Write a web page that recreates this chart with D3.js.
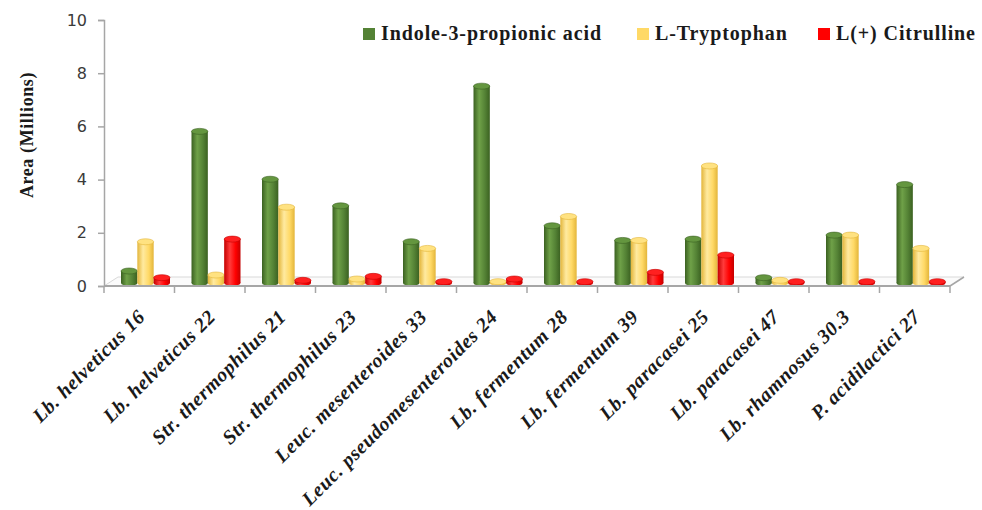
<!DOCTYPE html>
<html lang="en">
<head>
  <meta charset="UTF-8">
  <title>Area (Millions)</title>
  <script src="https://d3js.org/d3.v7.min.js" charset="utf-8"></script>
  <style>
    body { margin: 0; background: #fff; }
  </style>
</head>
<body>
  <div id="wrapper"></div>
  <script>
    const categories = [
      'Lb. helveticus 16', 'Lb. helveticus 22', 'Str. thermophilus 21', 'Str. thermophilus 23',
      'Leuc. mesenteroides 33', 'Leuc. pseudomesenteroides 24', 'Lb. fermentum 28', 'Lb. fermentum 39',
      'Lb. paracasei 25', 'Lb. paracasei 47', 'Lb. rhamnosus 30.3', 'P. acidilactici 27'
    ]
    const seriesNames = ['Indole-3-propionic acid', 'L-Tryptophan', 'L(+) Citrulline']
    const indoleValues     = [0.45, 5.7, 3.9, 2.9, 1.55, 7.4, 2.15, 1.6, 1.65, 0.2, 1.8, 3.7]
    const tryptophanValues = [1.55, 0.3, 2.85, 0.15, 1.3, 0.05, 2.5, 1.6, 4.4, 0.1, 1.8, 1.3]
    const citrullineValues = [0.2, 1.65, 0.1, 0.25, 0.05, 0.15, 0.05, 0.4, 1.05, 0.05, 0.05, 0.05]
    const yTicks = [0, 2, 4, 6, 8, 10]

    const seriesValues = [indoleValues, tryptophanValues, citrullineValues]
    const colors = [
      { base: '#548235', dark: '#3b6121', light: '#6fa148', top: '#64963f' },
      { base: '#ffd966', dark: '#e3b53a', light: '#ffeaa0', top: '#ffe281' },
      { base: '#ff0000', dark: '#c40000', light: '#ff3b3b', top: '#ff2020' },
    ]
    const serifFont = '"Liberation Serif", "Times New Roman", serif'

    const drawChart = () => {
      let dimensions = {
        width: 982,
        height: 510,
        margin: { top: 20, right: 32, bottom: 224, left: 104 },
      }
      dimensions.boundedWidth = dimensions.width - dimensions.margin.left - dimensions.margin.right
      dimensions.boundedHeight = dimensions.height - dimensions.margin.top - dimensions.margin.bottom

      const depthX = 14
      const depthY = -9
      const barShift = -3 // bars stand a little behind the front edge of the floor

      const wrapper = d3.select('#wrapper')
        .append('svg')
          .attr('width', dimensions.width)
          .attr('height', dimensions.height)

      // gradients for cylinders
      const defs = wrapper.append('defs')
      colors.forEach((c, i) => {
        const g = defs.append('linearGradient')
          .attr('id', `cyl${i}`)
          .attr('x1', '0%').attr('x2', '100%')
          .attr('y1', '0%').attr('y2', '0%')
        g.append('stop').attr('offset', '0%').attr('stop-color', c.dark)
        g.append('stop').attr('offset', '35%').attr('stop-color', c.light)
        g.append('stop').attr('offset', '70%').attr('stop-color', c.base)
        g.append('stop').attr('offset', '100%').attr('stop-color', c.dark)
      })

      const bounds = wrapper.append('g')
        .attr('transform', `translate(${dimensions.margin.left}, ${dimensions.margin.top})`)

      const xScale = d3.scaleBand()
        .domain(categories)
        .range([0, dimensions.boundedWidth])

      const x1Scale = d3.scaleBand()
        .domain(seriesNames)
        .range([17, 66])

      const yScale = d3.scaleLinear()
        .domain([0, 10])
        .range([dimensions.boundedHeight, 0])

      // floor
      const bh = dimensions.boundedHeight
      const bw = dimensions.boundedWidth
      bounds.append('path')
        .attr('d', `M0,${bh} L${bw},${bh} L${bw + depthX},${bh + depthY} L${depthX},${bh + depthY} Z`)
        .attr('fill', '#fbfbfb')
        .attr('stroke', 'none')
      bounds.append('line')
        .attr('x1', depthX).attr('x2', bw + depthX)
        .attr('y1', bh + depthY).attr('y2', bh + depthY)
        .attr('stroke', '#d9d9d9').attr('stroke-width', 1)
      bounds.append('line')
        .attr('x1', 0).attr('x2', depthX)
        .attr('y1', bh).attr('y2', bh + depthY)
        .attr('stroke', '#d9d9d9').attr('stroke-width', 1)
      bounds.append('line')
        .attr('x1', bw).attr('x2', bw + depthX)
        .attr('y1', bh).attr('y2', bh + depthY)
        .attr('stroke', '#a6a6a6').attr('stroke-width', 1.5)

      // bars as cylinders
      const ry = 3
      const baseY = bh + barShift
      const barData = []
      categories.forEach((cat, ci) => {
        seriesNames.forEach((s, si) => {
          barData.push({ cat, s, si, v: seriesValues[si][ci] })
        })
      })

      const bars = bounds.append('g')
        .selectAll('g')
        .data(barData)
        .join('g')

      bars.append('ellipse')
        .attr('cx', d => xScale(d.cat) + x1Scale(d.s) + x1Scale.bandwidth() / 2)
        .attr('cy', baseY)
        .attr('rx', x1Scale.bandwidth() / 2)
        .attr('ry', ry)
        .attr('fill', d => `url(#cyl${d.si})`)

      bars.append('rect')
        .attr('x', d => xScale(d.cat) + x1Scale(d.s))
        .attr('y', d => yScale(d.v) + barShift)
        .attr('width', x1Scale.bandwidth())
        .attr('height', d => Math.max(0, baseY - (yScale(d.v) + barShift)))
        .attr('fill', d => `url(#cyl${d.si})`)

      bars.append('ellipse')
        .attr('cx', d => xScale(d.cat) + x1Scale(d.s) + x1Scale.bandwidth() / 2)
        .attr('cy', d => yScale(d.v) + barShift)
        .attr('rx', x1Scale.bandwidth() / 2)
        .attr('ry', ry)
        .attr('fill', d => colors[d.si].top)
        .attr('stroke', d => colors[d.si].dark)
        .attr('stroke-width', 0.6)

      // y axis
      const yAxisGenerator = d3.axisLeft(yScale)
        .tickValues(yTicks)
        .tickSize(6)
        .tickPadding(11)
      const yAxis = bounds.append('g')
        .attr('class', 'y-axis')
        .call(yAxisGenerator)
      yAxis.select('.domain').attr('stroke', '#a6a6a6').attr('stroke-width', 1.5)
      yAxis.selectAll('.tick line').attr('stroke', '#a6a6a6').attr('stroke-width', 1.5)
      yAxis.selectAll('.tick text')
        .attr('fill', '#3a3a3a')
        .style('font-family', '"DejaVu Sans", Verdana, sans-serif')
        .style('font-size', '16px')

      // x axis: line with ticks between categories
      const xAxis = bounds.append('g')
        .attr('class', 'x-axis')
        .attr('transform', `translate(0, ${bh})`)
      xAxis.append('line')
        .attr('x1', 0).attr('x2', bw)
        .attr('stroke', '#a6a6a6').attr('stroke-width', 2)
      const boundaries = categories.map(c => xScale(c)).concat([xScale.range()[1]])
      xAxis.selectAll('.tick-b')
        .data(boundaries)
        .join('line')
          .attr('class', 'tick-b')
          .attr('x1', d => d).attr('x2', d => d)
          .attr('y1', 0).attr('y2', 7)
          .attr('stroke', '#a6a6a6').attr('stroke-width', 1.5)

      xAxis.selectAll('.cat-label')
        .data(categories)
        .join('text')
          .attr('class', 'cat-label')
          .attr('transform', d => `translate(${xScale(d) + xScale.bandwidth() / 2 + 7}, 32) rotate(-45)`)
          .attr('text-anchor', 'end')
          .style('font-family', serifFont)
          .style('font-weight', 'bold')
          .style('font-style', 'italic')
          .style('font-size', '20px')
          .style('letter-spacing', '0.6px')
          .attr('fill', '#1a1a1a')
          .text(d => d)

      // y axis title
      wrapper.append('text')
        .attr('transform', `translate(33, 135) rotate(-90)`)
        .attr('text-anchor', 'middle')
        .style('font-family', serifFont)
        .style('font-weight', 'bold')
        .style('font-size', '18px')
        .style('letter-spacing', '0.6px')
        .attr('fill', '#1a1a1a')
        .text('Area (Millions)')

      // legend
      const legendX = [363, 637, 818]
      const legend = wrapper.append('g')
        .selectAll('g')
        .data(seriesNames)
        .join('g')
          .attr('transform', (d, i) => `translate(${legendX[i]}, 28)`)
      legend.append('rect')
        .attr('width', 12).attr('height', 12)
        .attr('fill', (d, i) => colors[i].base)
      legend.append('text')
        .attr('x', 18).attr('y', 12)
        .style('font-family', serifFont)
        .style('font-weight', 'bold')
        .style('font-size', '20px')
        .style('letter-spacing', '0.9px')
        .attr('fill', '#1a1a1a')
        .text(d => d)
    }

    drawChart()
  </script>
</body>
</html>
